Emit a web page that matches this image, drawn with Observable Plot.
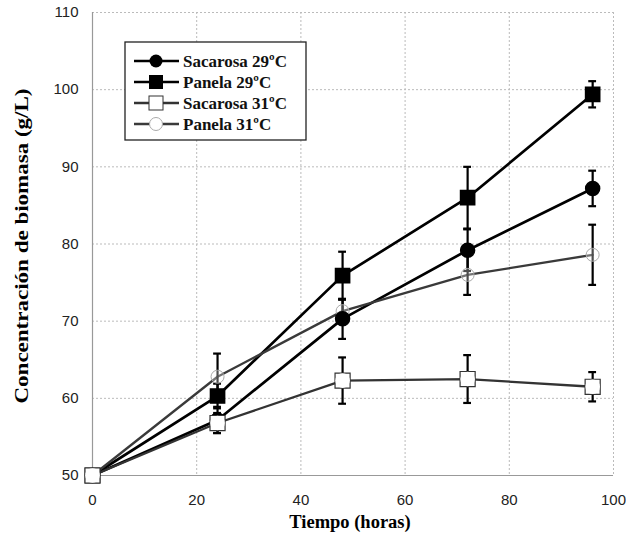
<!DOCTYPE html>
<html><head><meta charset="utf-8">
<script src="https://cdn.jsdelivr.net/npm/d3@7"></script>
<script src="https://cdn.jsdelivr.net/npm/@observablehq/plot@0.6"></script>
<style>body{margin:0;background:#fff}#c{position:relative;width:626px;height:547px}</style>
</head><body><div id="c"></div>
<script>
const times = [0, 24, 48, 72, 96];
const seriesNames = ["Sacarosa 29ºC", "Panela 29ºC", "Sacarosa 31ºC", "Panela 31ºC"];
const sacarosa29 = [50, 57.2, 70.3, 79.2, 87.2];
const sacarosa29Err = [0, 1.7, 2.6, 2.7, 2.3];
const panela29 = [50, 60.3, 75.9, 86.0, 99.4];
const panela29Err = [0, 1.6, 3.1, 4.0, 1.7];
const sacarosa31 = [50, 56.8, 62.3, 62.5, 61.5];
const sacarosa31Err = [0, 1.3, 3.0, 3.1, 1.9];
const panela31 = [50, 62.8, 71.3, 76.0, 78.6];
const panela31Err = [0, 3.0, 1.5, 2.6, 3.9];
const xTicks = [0, 20, 40, 60, 80, 100];
const yTicks = [50, 60, 70, 80, 90, 100, 110];

const vals = [sacarosa29, panela29, sacarosa31, panela31];
const errs = [sacarosa29Err, panela29Err, sacarosa31Err, panela31Err];
const data = [];
seriesNames.forEach((s, i) => times.forEach((t, j) => data.push({s, t, v: vals[i][j], e: errs[i][j]})));
const errData = data.filter(d => d.e > 0);

const style = {
  "Sacarosa 29ºC": {stroke: "#000", sw: 2.7},
  "Panela 29ºC": {stroke: "#000", sw: 2.7},
  "Sacarosa 31ºC": {stroke: "#333", sw: 2.3},
  "Panela 31ºC": {stroke: "#3a3a3a", sw: 2.3}
};
const by = s => data.filter(d => d.s === s);
const cap = 0.75;
const serif = "Liberation Serif, Times New Roman, serif";

const chart = Plot.plot({
  width: 626, height: 547,
  marginLeft: 92, marginRight: 13, marginTop: 12, marginBottom: 72,
  style: {fontFamily: "Liberation Sans, Arial, sans-serif", fontSize: "15px", color: "#222", background: "#fff"},
  x: {type: "linear", domain: [0, 100]},
  y: {type: "linear", domain: [50, 110]},
  marks: [
    Plot.ruleX(xTicks.slice(1), {stroke: "#bbb", strokeDasharray: "2,2", strokeWidth: 1}),
    Plot.ruleY(yTicks.slice(1), {stroke: "#bbb", strokeDasharray: "2,2", strokeWidth: 1}),
    Plot.axisX({ticks: xTicks, tickSize: 0, tickPadding: 19, label: null, fill: "#222"}),
    Plot.axisY({ticks: yTicks, tickSize: 0, tickPadding: 14, label: null, fill: "#222"}),
    Plot.ruleX([0], {stroke: "#999", strokeWidth: 1.2}),
    Plot.ruleY([50], {stroke: "#999", strokeWidth: 1.2}),
    ...seriesNames.map(s => Plot.line(by(s), {x: "t", y: "v", stroke: style[s].stroke, strokeWidth: style[s].sw})),
    Plot.ruleX(errData, {x: "t", y1: d => d.v - d.e, y2: d => d.v + d.e, stroke: "#000", strokeWidth: 2.2}),
    Plot.ruleY(errData, {y: d => d.v + d.e, x1: d => d.t - cap, x2: d => d.t + cap, stroke: "#000", strokeWidth: 2.2}),
    Plot.ruleY(errData, {y: d => d.v - d.e, x1: d => d.t - cap, x2: d => d.t + cap, stroke: "#000", strokeWidth: 2.2}),
    Plot.dot(by("Panela 31ºC"), {x: "t", y: "v", r: 6.5, fill: "#fff", fillOpacity: 0.3, stroke: "#aaa", strokeWidth: 1}),
    Plot.dot(by("Sacarosa 29ºC"), {x: "t", y: "v", r: 7, fill: "#000", stroke: "#000"}),
    Plot.dot(by("Panela 29ºC"), {x: "t", y: "v", symbol: "square", r: 8, fill: "#000", stroke: "#000"}),
    Plot.dot(by("Sacarosa 31ºC"), {x: "t", y: "v", symbol: "square", r: 8.5, fill: "#fff", stroke: "#333", strokeWidth: 1.2}),
    Plot.dot(by("Sacarosa 31ºC"), {x: "t", y: "v", r: 7.3, fill: "#fff", stroke: "none"}),
    Plot.text(["Tiempo (horas)"], {frameAnchor: "bottom", dx: -3, dy: 52, fontFamily: serif, fontWeight: "bold", fontSize: 18.5, fill: "#000"}),
    Plot.text(["Concentración de biomasa (g/L)"], {frameAnchor: "left", dx: -70, dy: 2, rotate: -90, fontFamily: serif, fontWeight: "bold", fontSize: 18, fill: "#000", className: "ylab"})
  ]
});
document.getElementById("c").appendChild(chart);

const svg = d3.select(chart);
svg.selectAll(".ylab text")
  .attr("text-anchor", "start").attr("x", -157.5)
  .attr("textLength", 315).attr("lengthAdjust", "spacingAndGlyphs");

// Legend
const lg = svg.append("g").attr("transform", "translate(125,42)");
lg.append("rect").attr("width", 181).attr("height", 98).attr("fill", "#fff").attr("stroke", "#222").attr("stroke-width", 1.3);
seriesNames.forEach((s, i) => {
  const y = 19 + i * 21;
  const g = lg.append("g").attr("transform", `translate(0,${y})`);
  g.append("line").attr("x1", 9).attr("x2", 54).attr("stroke", style[s].stroke).attr("stroke-width", style[s].sw);
  if (i === 0) g.append("circle").attr("cx", 31).attr("r", 6.5).attr("fill", "#000");
  if (i === 1) g.append("rect").attr("x", 24).attr("y", -7).attr("width", 14).attr("height", 14).attr("fill", "#000");
  if (i === 2) { g.append("rect").attr("x", 24).attr("y", -7).attr("width", 14).attr("height", 14).attr("fill", "#fff").attr("stroke", "#333");
                 g.append("circle").attr("cx", 31).attr("r", 6).attr("fill", "#fff"); }
  if (i === 3) g.append("circle").attr("cx", 31).attr("r", 6.5).attr("fill", "#fff").attr("stroke", "#aaa");
  g.append("text").attr("x", 58).attr("dy", "0.35em").attr("text-anchor", "start").text(s)
    .attr("font-family", serif).attr("font-weight", "bold").attr("font-size", 17).attr("fill", "#111");
});
</script></body></html>
